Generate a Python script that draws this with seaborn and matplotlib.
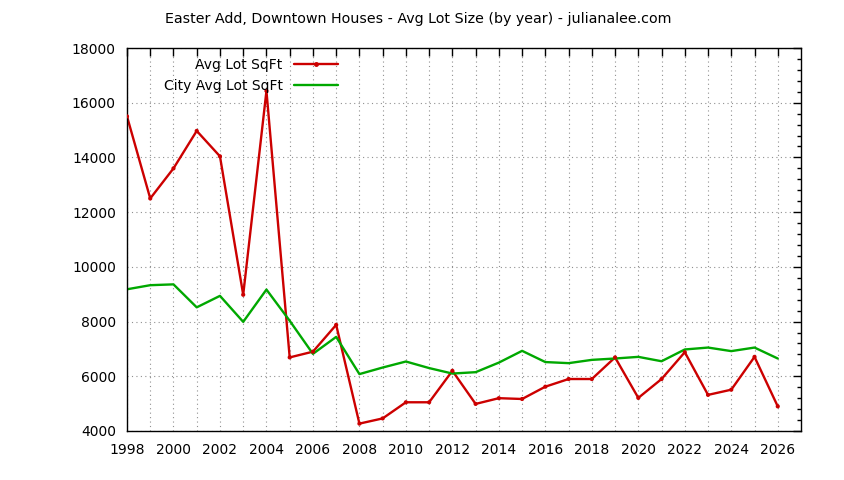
import numpy as np
import pandas as pd
import seaborn as sns
import matplotlib
matplotlib.use("Agg")
import matplotlib.pyplot as plt
from matplotlib.ticker import MultipleLocator
from matplotlib.lines import Line2D

years = list(range(1998, 2027))
avg_lot = [15500, 12500, 13600, 14970, 14040, 8980, 16430, 6690, 6900, 7880,
           4270, 4460, 5050, 5050, 6200, 4990, 5200, 5170, 5620, 5900,
           5900, 6690, 5210, 5900, 6880, 5320, 5510, 6710, 4900]
city_avg_lot = [9180, 9330, 9360, 8520, 8940, 7990, 9170, 8030, 6820, 7440,
                6080, 6320, 6540, 6300, 6100, 6150, 6500, 6930, 6520, 6480,
                6600, 6650, 6710, 6550, 6980, 7050, 6920, 7050, 6650]
series_names = ["Avg Lot SqFt", "City Avg Lot SqFt"]
title = "Easter Add, Downtown Houses - Avg Lot Size (by year) - julianalee.com"

df = pd.DataFrame({
    "year": years * 2,
    "value": avg_lot + city_avg_lot,
    "series": [series_names[0]] * len(years) + [series_names[1]] * len(years),
})

sns.set_style("white")
plt.rcParams["font.family"] = ["DejaVu Sans"]

fig = plt.figure(figsize=(8.44, 4.8), dpi=100)
ax = fig.add_axes([127 / 844, 1 - 431 / 480, (801 - 127) / 844, (431 - 48) / 480])

palette = {series_names[0]: "#cc0000", series_names[1]: "#00a800"}
sns.lineplot(data=df, x="year", y="value", hue="series", palette=palette,
             linewidth=1.7, ax=ax, legend=False)
# small point markers on the red series only
red = df[df.series == series_names[0]]
sns.scatterplot(data=red, x="year", y="value", color="#cc0000", s=9,
                edgecolor="none", ax=ax, legend=False, zorder=3)

ax.set_xlim(1998, 2027)
ax.set_ylim(4000, 18000)
ax.set_xlabel("")
ax.set_ylabel("")

ax.set_xticks(years)
ax.set_xticklabels([str(y) if y % 2 == 0 else "" for y in years])
ax.yaxis.set_major_locator(MultipleLocator(2000))
ax.yaxis.set_minor_locator(MultipleLocator(400))

ax.tick_params(which="both", direction="in", top=True, right=True,
               color="black", width=1, labelsize=10, labelcolor="black")
ax.tick_params(which="major", length=6)
ax.tick_params(which="minor", length=3)
ax.tick_params(axis="x", pad=9)
ax.tick_params(axis="y", pad=8)

for s in ax.spines.values():
    s.set_color("black")
    s.set_linewidth(1)

ax.grid(True, which="major", color="#909090", linestyle=(0, (1, 3)), linewidth=0.8)

# legend: text first, then sample
handles = [Line2D([], [], color="#cc0000", lw=1.7, marker="o", markersize=2.5),
           Line2D([], [], color="#00a800", lw=1.7)]
ax.legend(handles, series_names, loc="upper left", bbox_to_anchor=(0.04, 1.0),
          frameon=False, markerfirst=False, fontsize=10, handlelength=3.2,
          labelspacing=0.5, borderaxespad=0.3, labelcolor="black")

fig.suptitle(title, x=0.495, y=0.975, fontsize=10.3, color="black")

fig.savefig("out.png", dpi=100)
